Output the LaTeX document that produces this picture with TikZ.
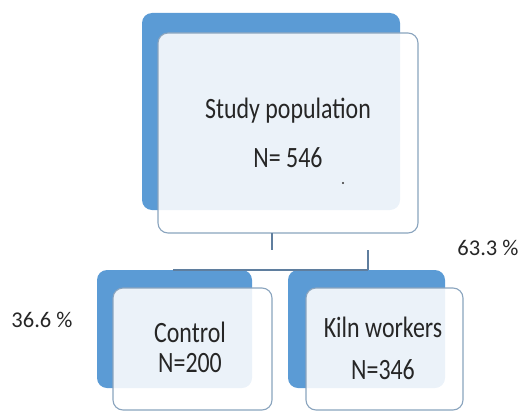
\documentclass[tikz,border=0pt]{standalone}
\usepackage{fontspec}
\setmainfont{Carlito}
\newfontfamily\narrowfont{Carlito}[FakeStretch=0.81]
\definecolor{backblue}{HTML}{5B9BD5}
\definecolor{edgegray}{HTML}{8AA4BE}
\definecolor{linec}{HTML}{5F7E9E}
\begin{document}
\begin{tikzpicture}[x=1pt,y=-1pt,
  backbox/.style={fill=backblue,draw=none,rounded corners=10pt},
  frontbox/.style={fill=white,fill opacity=0.88,draw=edgegray,line width=1.1pt,rounded corners=10pt},
  lbl/.style={font=\narrowfont\fontsize{29.5}{32}\selectfont,text=black!85,inner sep=0pt},
  pct/.style={font=\fontsize{22.5}{25}\selectfont,text=black!85,inner sep=0pt},
  conn/.style={draw=linec,line width=1.4pt}]
\useasboundingbox (0,0) rectangle (521,412);
% top
\fill[backblue,rounded corners=10pt] (142,13) rectangle (400,210);
\draw[frontbox] (158,33) rectangle (418,233);
\coordinate (topbot) at (272,233);
% lower left
\fill[backblue,rounded corners=10pt] (97,270) rectangle (252,388);
\draw[frontbox] (113,288) rectangle (272,410);
% lower right
\fill[backblue,rounded corners=10pt] (288,270) rectangle (445,388);
\draw[frontbox] (306,288) rectangle (463,410);
% connectors
\coordinate (split) at (272,250);
\coordinate (lefttop) at (173,270);
\coordinate (righttop) at (368,270);
\draw[conn] (topbot) -- (split);
\draw[conn] (lefttop) |- (righttop);
\draw[conn] (righttop) -- (368,250);
% texts
\node[lbl] (study) at (288,111) {Study population};
\node[lbl] (n546) at (288,158) {N= 546};
\fill[black!80] (343,183) circle (1.1pt);
\node[lbl] (control) at (190,332) {Control};
\node[lbl] (n200) at (190,363) {N=200};
\node[lbl] (kiln) at (383,327) {Kiln workers};
\node[lbl] (n346) at (383,370) {N=346};
\node[pct] (p1) at (42,320) {36.6 \%};
\node[pct] (p2) at (488,248) {63.3 \%};
\end{tikzpicture}
\end{document}
